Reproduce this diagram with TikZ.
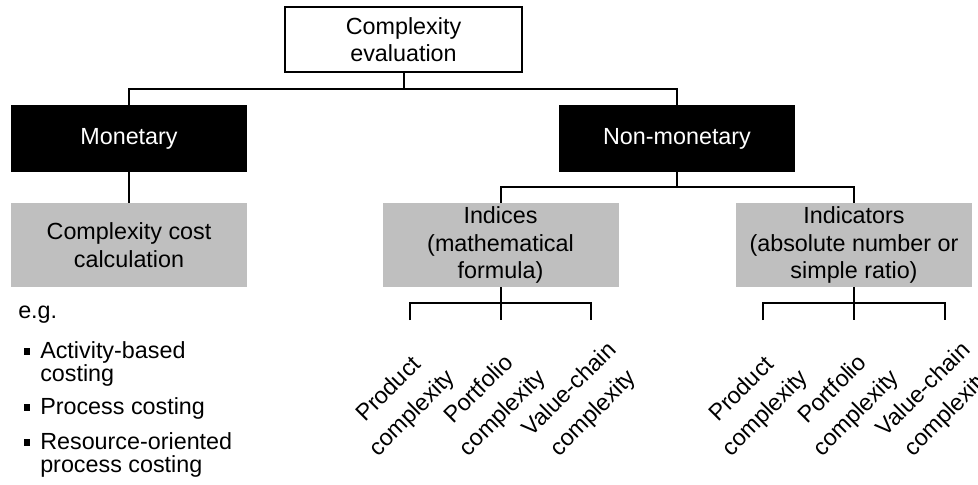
\documentclass[tikz,border=0pt]{standalone}
\usepackage{fontspec}
\setmainfont{Liberation Sans}
\definecolor{boxgray}{RGB}{191,191,191}
\newcommand{\sqbullet}{\raisebox{2.6pt}{\rule{4.6pt}{4.6pt}}}
\begin{document}
\begin{tikzpicture}[x=0.75pt,y=-0.75pt,
  font=\fontsize{17.5pt}{20.75pt}\selectfont,
  box/.style={minimum width=177pt, inner sep=0pt, align=center},
  rootbox/.style={box, draw=black, line width=1.2pt, fill=white, minimum width=177.75pt, minimum height=48.75pt},
  catbox/.style={box, fill=black, text=white, minimum height=49.5pt},
  subbox/.style={box, fill=boxgray, minimum height=63pt},
  link/.style={line width=1.5pt},
  leaf/.style={rotate=45, align=center, inner sep=0pt, anchor=center, font=\fontsize{17.5pt}{25pt}\selectfont},
  listline/.style={anchor=base west, inner sep=0pt}]
\useasboundingbox (0,0) rectangle (978,485);

% hierarchy boxes
\node[rootbox] (root) at (403.5,39.5) {Complexity\\evaluation};
\node[catbox] (mon) at (129,138.5) {Monetary};
\node[catbox] (non) at (677,138.5) {Non-monetary};
\node[subbox] (cost) at (129,245) {Complexity cost\\calculation};
\node[subbox] (ind) at (500.5,245) {Indices\\(mathematical\\formula)};
\node[subbox] (indr) at (854,245) {Indicators\\(absolute number or\\simple ratio)};

% bus levels
\coordinate (rbus) at (403.5,89);
\coordinate (nbus) at (677,187);
\coordinate (ibus) at (500.5,303);
\coordinate (rrbus) at (854,303);

% leaf drop ends
\coordinate (i1) at (410,320);
\coordinate (i2) at (500.5,320);
\coordinate (i3) at (591,320);
\coordinate (r1) at (763,320);
\coordinate (r2) at (854,320);
\coordinate (r3) at (945,320);

% connectors
\draw[link] (root.south) -- (rbus);
\draw[link] (mon.north) |- (rbus) -| (non.north);
\draw[link] (mon.south) -- (cost.north);
\draw[link] (non.south) -- (nbus);
\draw[link] (ind.north) |- (nbus) -| (indr.north);
\draw[link] (ind.south) -- (i2);
\draw[link] (i1) |- (ibus) -| (i3);
\draw[link] (indr.south) -- (r2);
\draw[link] (r1) |- (rrbus) -| (r3);

% rotated leaf labels
\node[leaf] (iprod) at (401,402) {Product\\complexity};
\node[leaf] (iport) at (491.5,402) {Portfolio\\complexity};
\node[leaf] (ivalue) at (582,402) {Value-chain\\complexity};
\node[leaf] (rprod) at (754,402) {Product\\complexity};
\node[leaf] (rport) at (845,402) {Portfolio\\complexity};
\node[leaf] (rvalue) at (936,402) {Value-chain\\complexity};

% example list below the cost box
\node[listline] (eg) at (18,318) {e.g.};
\node[listline] (m1) at (24,358) {\sqbullet\hspace{7.4pt}Activity-based};
\node[listline] (m1b) at (40,381) {costing};
\node[listline] (m2) at (24,414) {\sqbullet\hspace{7.4pt}Process costing};
\node[listline] (m3) at (24,449) {\sqbullet\hspace{7.4pt}Resource-oriented};
\node[listline] (m3b) at (40,472) {process costing};
\end{tikzpicture}
\end{document}
